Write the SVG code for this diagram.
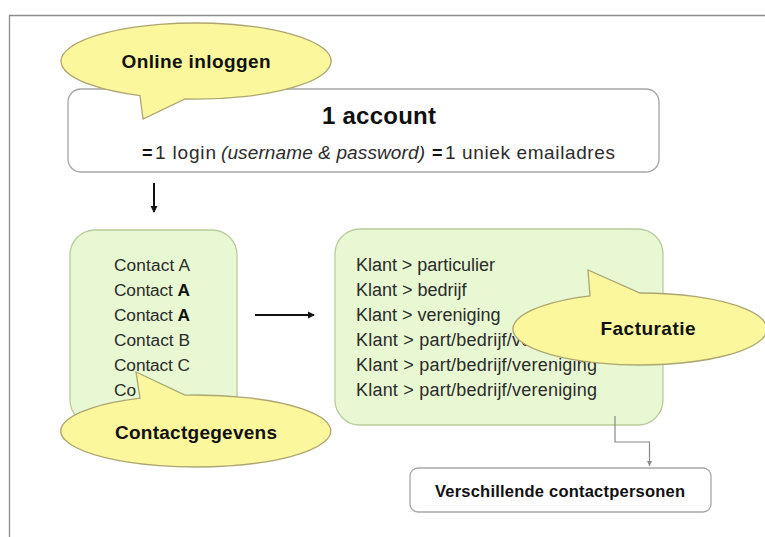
<svg xmlns="http://www.w3.org/2000/svg" width="765" height="537" viewBox="0 0 765 537">
<defs>
<style>
.t{font-family:"Liberation Sans",Arial,sans-serif;fill:#2b2b2b;font-size:18px}
.c{font-size:17.3px}
.a{font-size:19px}
.b{font-family:"Liberation Sans",Arial,sans-serif;font-weight:bold;fill:#111}
.box{fill:#fff;stroke:#a6a6a6;stroke-width:1.3}
.green{fill:#e8f8d2;stroke:#b9cc9c;stroke-width:1.3}
.bubble{fill:#fbf79c;stroke:#ada670;stroke-width:1.3}
.conn{fill:none;stroke:#111;stroke-width:2}
</style>
<marker id="ah" markerWidth="8" markerHeight="8" refX="6" refY="4" orient="auto" markerUnits="userSpaceOnUse">
<path d="M0,0.5 L7,4 L0,7.5 Z" fill="#111"/>
</marker>
<marker id="ahg" markerWidth="6" markerHeight="6" refX="5" refY="3" orient="auto" markerUnits="userSpaceOnUse">
<path d="M0,0.5 L5,3 L0,5.5 Z" fill="#888"/>
</marker>
</defs>
<rect width="765" height="537" fill="#fff"/>
<g id="frame">
<path d="M9.5,537 V15.5 H765" fill="none" stroke="#8c8c8c" stroke-width="1.3"/>
</g>
<g id="account">
<rect class="box" x="68" y="89" width="591" height="83" rx="13"/>
<text class="b" x="379" y="124" font-size="24" text-anchor="middle" textLength="114">1 account</text>
<text class="b" x="142" y="159" font-size="18">=</text>
<text class="t a" x="155" y="159" textLength="61">1 login</text>
<text class="t a" x="221" y="159" font-style="italic" textLength="204">(username &amp; password)</text>
<text class="b" x="432" y="159" font-size="18">=</text>
<text class="t a" x="445" y="159" textLength="170">1 uniek emailadres</text>
</g>
<g id="contacts">
<rect class="green" x="70" y="230" width="167" height="195" rx="25"/>
<text class="t c" x="114" y="271" textLength="76">Contact A</text>
<text class="t c" x="114" y="296" textLength="76">Contact <tspan font-weight="bold" fill="#111">A</tspan></text>
<text class="t c" x="114" y="321" textLength="76">Contact <tspan font-weight="bold" fill="#111">A</tspan></text>
<text class="t c" x="114" y="346" textLength="76">Contact B</text>
<text class="t c" x="114" y="371" textLength="76">Contact C</text>
<text class="t c" x="114" y="396">Co</text>
</g>
<g id="klant">
<rect class="green" x="335" y="229" width="328" height="196" rx="25"/>
<text class="t" x="356" y="271" textLength="139">Klant &gt; particulier</text>
<text class="t" x="356" y="296">Klant &gt; bedrijf</text>
<text class="t" x="356" y="321">Klant &gt; vereniging</text>
<text class="t" x="356" y="346" textLength="241">Klant &gt; part/bedrijf/vereniging</text>
<text class="t" x="356" y="371" textLength="241">Klant &gt; part/bedrijf/vereniging</text>
<text class="t" x="356" y="396" textLength="241">Klant &gt; part/bedrijf/vereniging</text>
</g>
<g id="contactpersonen">
<rect class="box" x="410" y="468" width="301" height="44" rx="8"/>
<text class="b" x="560" y="497" font-size="16.5" text-anchor="middle" textLength="250">Verschillende contactpersonen</text>
</g>
<g id="connectors">
<line class="conn" x1="154" y1="183" x2="154" y2="212" marker-end="url(#ah)"/>
<line class="conn" x1="255" y1="315" x2="314" y2="315" marker-end="url(#ah)"/>
<path d="M615,416 V442 H649.5 V466" fill="none" stroke="#888" stroke-width="1.2" marker-end="url(#ahg)"/>
</g>
<g id="bubble-online">
<path class="bubble" d="M185,98.9 A135,38 0 1 0 140,95.6 L143,119 Z"/>
<text class="b" x="196" y="68" font-size="19" text-anchor="middle" textLength="149">Online inloggen</text>
</g>
<g id="bubble-contactgegevens">
<path class="bubble" d="M140,398.2 L136,372 L185,395.1 A135,36 0 1 1 140,398.2 Z"/>
<text class="b" x="196" y="439" font-size="19" text-anchor="middle" textLength="162">Contactgegevens</text>
</g>
<g id="bubble-facturatie">
<path class="bubble" d="M590,295.9 L588,270 L640,293 A127,36 0 1 1 590,295.9 Z"/>
<text class="b" x="648" y="335" font-size="19" text-anchor="middle" textLength="95">Facturatie</text>
</g>
</svg>
